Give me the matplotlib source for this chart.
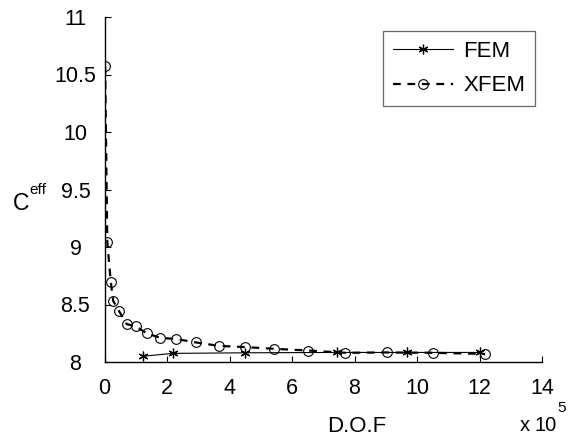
import matplotlib
matplotlib.use("Agg")
import matplotlib.pyplot as plt

plt.rcParams['font.family'] = ['Liberation Sans', 'DejaVu Sans']

# D.O.F in units of 1e5
fem_x = [1.24, 2.18, 4.5, 7.45, 9.67, 12.0]
fem_y = [8.05, 8.075, 8.08, 8.083, 8.083, 8.083]

xfem_x = [0.02, 0.09, 0.2, 0.28, 0.47, 0.71, 1.0, 1.35, 1.78, 2.29, 2.93,
          3.67, 4.5, 5.42, 6.5, 7.7, 9.03, 10.52, 12.18]
xfem_y = [10.57, 9.04, 8.70, 8.53, 8.44, 8.33, 8.31, 8.25, 8.21, 8.20, 8.17,
          8.14, 8.13, 8.115, 8.10, 8.08, 8.083, 8.08, 8.07]

xticks = [0, 2, 4, 6, 8, 10, 12, 14]
yticks = [8, 8.5, 9, 9.5, 10, 10.5, 11]
ytick_labels = ['8', '8.5', '9', '9.5', '10', '10.5', '11']

W, H = 572, 443
fig = plt.figure(figsize=(W / 100, H / 100), dpi=100)
ax = fig.add_axes([104.5 / W, (H - 362) / H, (542 - 104.5) / W, (362 - 17) / H])

ax.plot(fem_x, fem_y, '-', color='black', lw=0.8, marker=(6, 2, 0), ms=7,
        mew=0.9, label='FEM')
ax.plot(xfem_x, xfem_y, '--', color='black', lw=1.6, marker='o', ms=7,
        mfc='none', mec='black', mew=0.8, dashes=(3.5, 3), label='XFEM')

ax.set_xlim(0, 14)
ax.set_ylim(8, 11)
ax.set_xticks(xticks)
ax.set_yticks(yticks)
ax.set_yticklabels(ytick_labels)
ax.tick_params(direction='in', labelsize=15.5, length=4.3, width=0.8)
ax.tick_params(axis='x', pad=11.5)
ax.tick_params(axis='y', pad=20.9)
for lab in ax.get_yticklabels():
    lab.set_horizontalalignment('center')
ax.spines['top'].set_visible(False)
ax.spines['right'].set_visible(False)
for s in ['left', 'bottom']:
    ax.spines[s].set_linewidth(1.0)

# axis labels as figure text (pixel positions)
fig.text(357 / W, 1 - 427 / H, 'D.O.F', fontsize=16, ha='center', va='center')
fig.text(13 / W, 1 - 210 / H, 'C', fontsize=16.5, ha='left', va='baseline')
fig.text(29 / W, 1 - 194 / H, 'eff', fontsize=11, ha='left', va='baseline')
fig.text(520 / W, 1 - 431 / H, 'x', fontsize=14.5, ha='left', va='baseline')
fig.text(557 / W, 1 - 431 / H, '10', fontsize=14.5, ha='right', va='baseline')
fig.text(557.5 / W, 1 - 412 / H, '5', fontsize=11, ha='left', va='baseline')

leg = ax.legend(loc='upper right', bbox_to_anchor=(535 / W, 1 - 31 / H),
                bbox_transform=fig.transFigure, borderaxespad=0, fontsize=16,
                frameon=True, fancybox=False, edgecolor='#444444',
                handlelength=2.7, handletextpad=0.45, borderpad=0.45,
                labelspacing=0.6)
leg.get_frame().set_linewidth(0.9)

fig.savefig('out.png', dpi=100)
